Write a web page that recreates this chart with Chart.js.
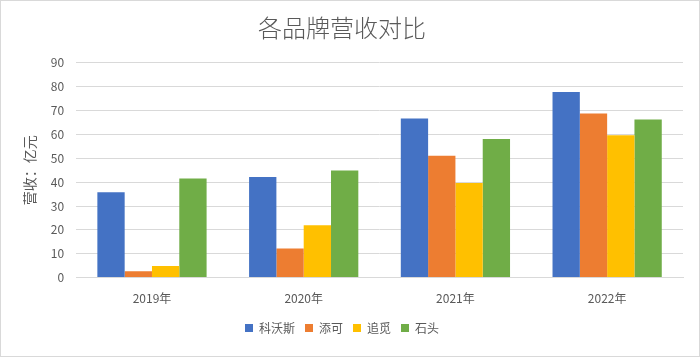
<!DOCTYPE html>
<html><head><meta charset="utf-8">
<script src="https://cdn.jsdelivr.net/npm/chart.js@4/dist/chart.umd.min.js"></script>
<style>
html,body{margin:0;padding:0;background:#fff;}
#wrap{position:absolute;left:0;top:0;width:698px;height:355px;border:1px solid #d9d9d9;}
canvas{display:block;}
</style></head>
<body><div id="wrap"><canvas id="c" width="698" height="355"></canvas></div>
<script>
const categories = ['2019年','2020年','2021年','2022年'];
const seriesNames = ['科沃斯','添可','追觅','石头'];
const values科沃斯 = [35.8, 42.1, 66.7, 77.8];
const values添可 = [2.7, 12.2, 51.1, 68.8];
const values追觅 = [4.9, 21.9, 39.6, 59.6];
const values石头 = [41.5, 44.9, 58.1, 66.2];
const yTicks = [0,10,20,30,40,50,60,70,80,90];
const colors = ['#4472C4','#ED7D31','#FFC000','#70AD47'];
const font = '"Noto Sans CJK SC","Noto Sans",sans-serif';
const allValues = [values科沃斯, values添可, values追觅, values石头];

new Chart(document.getElementById('c'), {
  type: 'bar',
  data: {
    labels: categories,
    datasets: seriesNames.map((n,i)=>({label:n, data:allValues[i], backgroundColor:colors[i], borderWidth:0}))
  },
  options: {
    responsive:false, animation:false,
    layout:{padding:{left:0,right:16,top:4,bottom:12}},
    datasets:{bar:{categoryPercentage:0.72,barPercentage:1}},
    plugins:{
      title:{display:true,text:'各品牌营收对比',color:'#595959',font:{family:font,size:24,weight:'300'},padding:{top:8,bottom:21}},
      legend:{position:'bottom',labels:{boxWidth:8,boxHeight:8,color:'#595959',font:{family:font,size:12},padding:10}},
      tooltip:{enabled:false}
    },
    scales:{
      x:{grid:{display:false},border:{color:'#d9d9d9'},ticks:{color:'#595959',font:{family:font,size:12},padding:6}},
      y:{min:0,max:90,afterBuildTicks:(s)=>{s.ticks=yTicks.map(v=>({value:v}));},
         grid:{color:'#d9d9d9',drawTicks:false},border:{display:false},
         ticks:{color:'#595959',font:{family:font,size:12},padding:12},
         title:{display:true,text:'营收：亿元',color:'#595959',font:{family:font,size:14},padding:{top:20,bottom:1}}}
    }
  }
});
</script></body></html>
